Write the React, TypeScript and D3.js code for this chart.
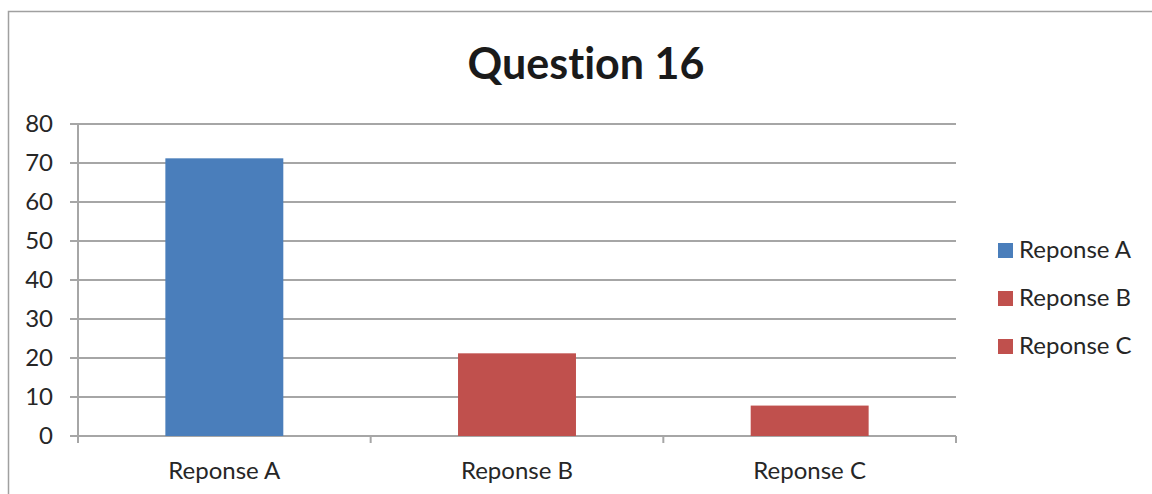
import React, { useRef, useEffect } from 'react';
import * as d3 from 'd3';

const categories = ['Reponse A', 'Reponse B', 'Reponse C'];
const values = [71.2, 21.2, 7.8];
const barColors = ['#4a7ebb', '#c0504d', '#c0504d'];
const yTicks = [0, 10, 20, 30, 40, 50, 60, 70, 80];
const chartTitle = 'Question 16';

const W = 1152;
const H = 494;
const FONT = 'Lato, "Open Sans", sans-serif';

const App: React.FC = () => {
  const svgRef = useRef<SVGSVGElement | null>(null);

  useEffect(() => {
    if (!svgRef.current) return;
    const svg = d3.select(svgRef.current);
    svg.selectAll('*').remove();

    const left = 78, right = 956, top = 124, bottom = 436;

    const x = d3.scaleBand().domain(categories).range([left, right]).paddingInner(0).paddingOuter(0);
    const y = d3.scaleLinear().domain([0, 80]).range([bottom, top]);

    svg.style('font-variant-ligatures', 'none');

    // outer frame
    svg.append('rect')
      .attr('x', 8.5).attr('y', 11.5)
      .attr('width', W).attr('height', H)
      .attr('fill', 'none').attr('stroke', '#a0a0a0').attr('stroke-width', 1.5);

    // title
    svg.append('text')
      .attr('x', 586).attr('y', 79)
      .attr('text-anchor', 'middle')
      .style('font-family', FONT).style('font-weight', 'bold').style('font-size', '43px')
      .attr('fill', '#1a1a1a')
      .text(chartTitle);

    // gridlines
    svg.append('g').selectAll('line').data(yTicks).join('line')
      .attr('x1', left - 8).attr('x2', right)
      .attr('y1', d => y(d)).attr('y2', d => y(d))
      .attr('stroke', '#a6a6a6').attr('stroke-width', 2);

    // y axis line
    svg.append('line')
      .attr('x1', left).attr('x2', left).attr('y1', top).attr('y2', bottom + 7)
      .attr('stroke', '#a6a6a6').attr('stroke-width', 2);

    // x ticks at category boundaries
    const bounds = categories.map(c => x(c)!).concat([right]);
    svg.append('g').selectAll('line').data(bounds.slice(1)).join('line')
      .attr('x1', d => d).attr('x2', d => d).attr('y1', bottom).attr('y2', bottom + 7)
      .attr('stroke', '#a6a6a6').attr('stroke-width', 2);

    // y labels
    svg.append('g').selectAll('text').data(yTicks).join('text')
      .attr('x', 53).attr('y', d => y(d))
      .attr('dy', '0.35em')
      .attr('text-anchor', 'end')
      .style('font-family', FONT).style('font-size', '24px')
      .attr('fill', '#262626')
      .text(d => d);

    // bars
    const bw = x.bandwidth() * 0.403;
    svg.append('g').selectAll('rect').data(values).join('rect')
      .attr('x', (d, i) => x(categories[i])! + x.bandwidth() / 2 - bw / 2)
      .attr('width', bw)
      .attr('y', d => y(d))
      .attr('height', d => bottom - y(d))
      .attr('fill', (d, i) => barColors[i]);

    // x labels
    svg.append('g').selectAll('text').data(categories).join('text')
      .attr('x', d => x(d)! + x.bandwidth() / 2).attr('y', 479)
      .attr('text-anchor', 'middle')
      .style('font-family', FONT).style('font-size', '24px')
      .attr('fill', '#262626')
      .text(d => d);

    // legend
    const legend = svg.append('g');
    categories.forEach((c, i) => {
      const ly = 250 + i * 48;
      legend.append('rect')
        .attr('x', 998).attr('y', ly - 7).attr('width', 15).attr('height', 15)
        .attr('fill', barColors[i]);
      legend.append('text')
        .attr('x', 1019).attr('y', ly)
        .attr('dy', '0.35em')
        .style('font-family', FONT).style('font-size', '24px')
        .attr('fill', '#262626')
        .text(c);
    });
  }, []);

  return (
    <svg ref={svgRef} width={W} height={H}
      style={{ position: 'absolute', left: 0, top: 0, background: '#fff' }} />
  );
};

export default App;
